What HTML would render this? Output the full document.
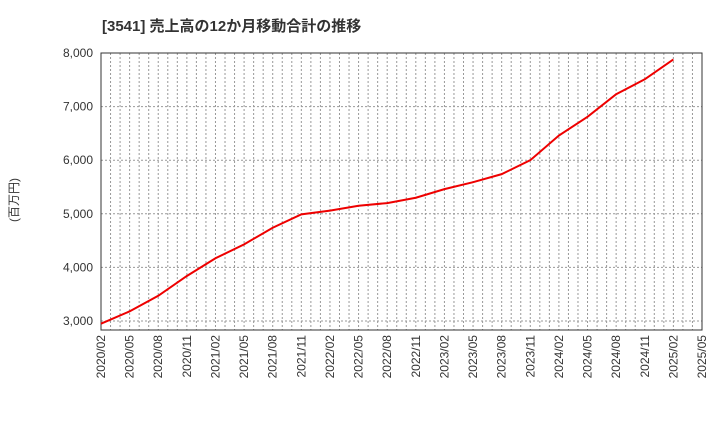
<!DOCTYPE html>
<html><head><meta charset="utf-8"><style>
body{margin:0;background:#fff;font-family:"Liberation Sans","Noto Sans CJK JP",sans-serif;}
svg text{font-family:"Liberation Sans","Noto Sans CJK JP",sans-serif;}
</style></head><body>
<svg id="c" width="720" height="440" xmlns="http://www.w3.org/2000/svg">
<text x="102" y="31" font-size="15" font-weight="bold" fill="#333">[3541]  売上高の12か月移動合計の推移</text>
<text x="18" y="200" font-size="12" fill="#333" transform="rotate(-90 18 200)" text-anchor="middle">(百万円)</text>
<g id="grid"></g><g id="axes"></g><g id="series"></g>
</svg>
<script>
const categories=["2020/02","2020/05","2020/08","2020/11","2021/02","2021/05","2021/08","2021/11","2022/02","2022/05","2022/08","2022/11","2023/02","2023/05","2023/08","2023/11","2024/02","2024/05","2024/08","2024/11","2025/02"];
const sales=[2950,3180,3470,3840,4170,4430,4740,4990,5060,5150,5200,5300,5460,5590,5740,6000,6460,6810,7230,7510,7880];
const xTickLabels=["2020/02","2020/05","2020/08","2020/11","2021/02","2021/05","2021/08","2021/11","2022/02","2022/05","2022/08","2022/11","2023/02","2023/05","2023/08","2023/11","2024/02","2024/05","2024/08","2024/11","2025/02","2025/05"];
const yTicks=[3000,4000,5000,6000,7000,8000];
const L=101,R=702,T=53,B=330,ns="http://www.w3.org/2000/svg";
const x=i=>L+(R-L)*i/(xTickLabels.length-1);
const y=v=>T+(8000-v)*(321-T)/5000;
function mk(t,a,p){const e=document.createElementNS(ns,t);for(const k in a)e.setAttribute(k,a[k]);p.appendChild(e);return e;}
const g=document.getElementById('grid'),ax=document.getElementById('axes'),s=document.getElementById('series');
const months=(xTickLabels.length-1)*3;
for(let m=1;m<months;m++){const xx=L+(R-L)*m/months;const e=mk('line',{x1:xx,x2:xx,y1:T,y2:B,stroke:'#999','stroke-dasharray':'2,2','stroke-width':1},g);

}
yTicks.forEach(v=>{const e=mk('line',{x1:L,x2:R,y1:y(v),y2:y(v),stroke:'#999','stroke-dasharray':'2,2'},g);


const t=mk('text',{x:L-8,y:y(v)+4,'text-anchor':'end','font-size':12,fill:'#333'},ax);t.textContent=v.toLocaleString('en-US');

});
const fr=mk('rect',{x:L,y:T,width:R-L,height:B-T,fill:'none',stroke:'#333'},ax);


xTickLabels.forEach((lb,i)=>{const xx=x(i)+4,yy=B+5;const t=mk('text',{x:xx,y:yy,'text-anchor':'end','font-size':12,fill:'#333',transform:`rotate(-90 ${xx} ${yy})`},ax);t.textContent=lb;

});
const pl=mk('polyline',{points:sales.map((v,i)=>x(categories.indexOf(categories[i]))+','+y(v)).join(' '),fill:'none',stroke:'#e00','stroke-width':2},s);


</script>
</body></html>
